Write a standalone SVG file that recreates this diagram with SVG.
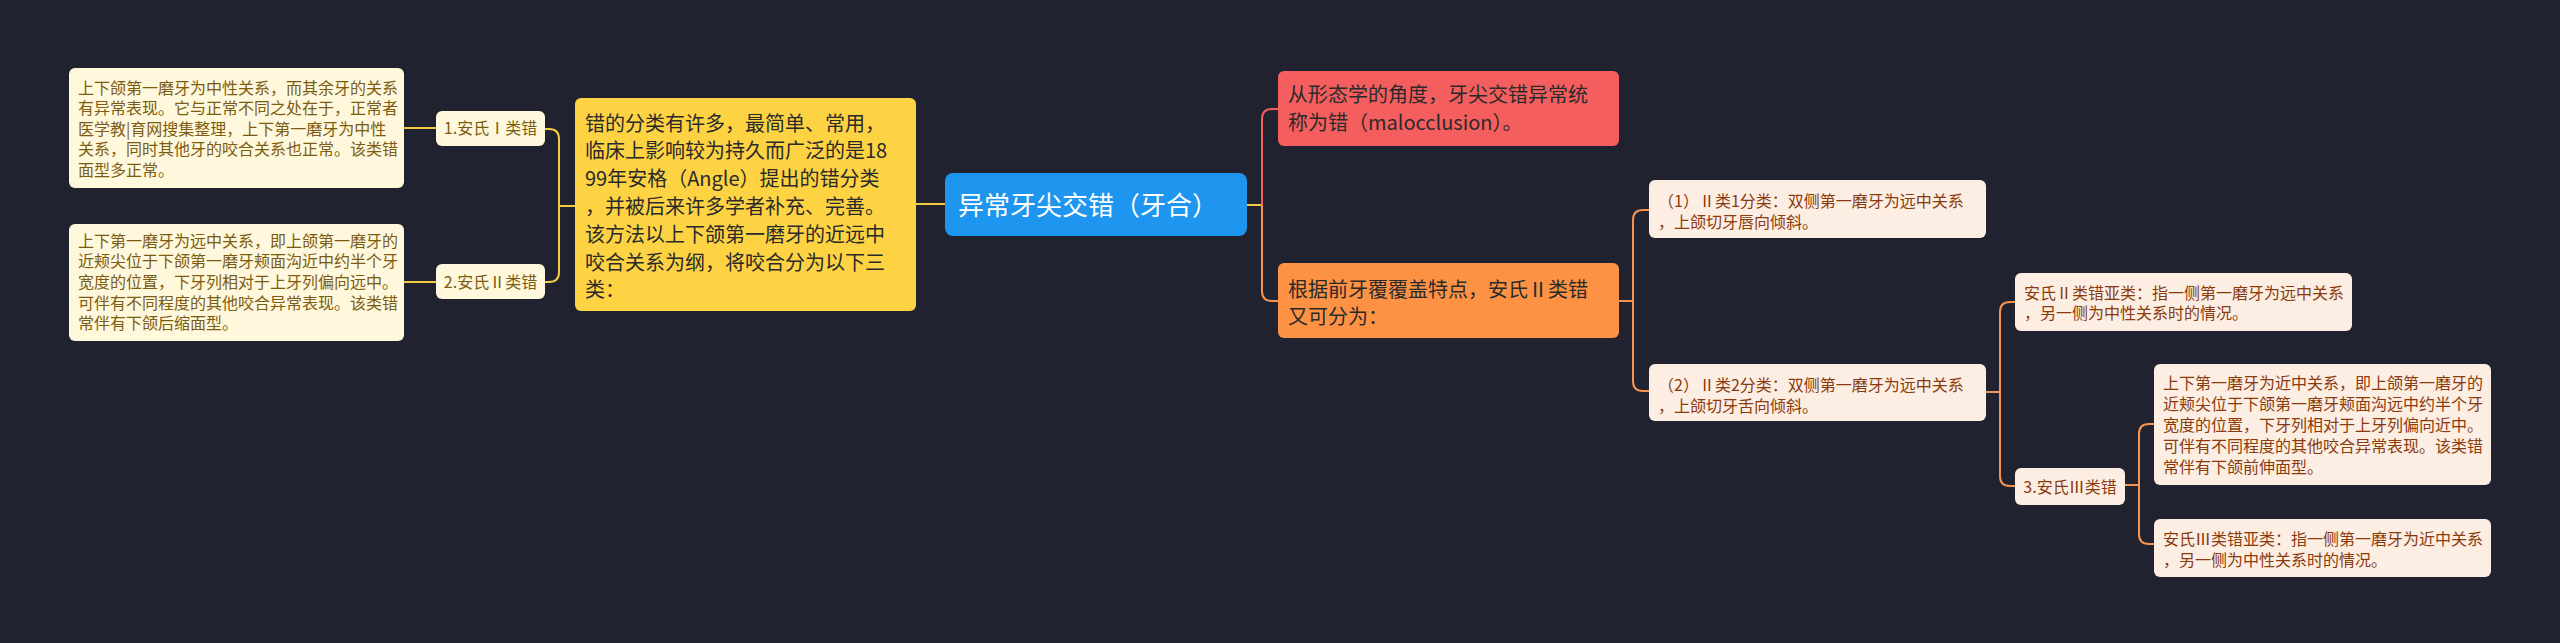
<svg xmlns="http://www.w3.org/2000/svg" width="2560" height="643" viewBox="0 0 2560 643">
<style>
.t{font-family:"Noto Sans CJK SC","Noto Sans",sans-serif}
.s16{font-size:16px}
.s20{font-size:20px}
.ly{fill:#fff8dc}
.lyt{fill:#7c5c10}
.lo{fill:#fdeee3}
.lot{fill:#8a3a0c}
.cy{fill:none;stroke:#f2cb45;stroke-width:2}
.cr{fill:none;stroke:#f25e5e;stroke-width:2}
.co{fill:none;stroke:#f79350;stroke-width:2}
.dk{fill:#2a2a2a}
</style>
<rect x="0" y="0" width="2560" height="643" fill="#20232f"/>
<g id="connectors">
<path class="cy" d="M436 128 H404"/>
<path class="cy" d="M436 282 H404"/>
<path class="cy" d="M545 129 H549 Q559 129 559 139 V272 Q559 282 549 282 H545"/>
<path class="cy" d="M559 206 H575"/>
<path class="cy" d="M916 204 H945"/>
<path class="cy" d="M1247 205 H1262"/>
<path class="cr" d="M1262 205 V119 Q1262 109 1272 109 H1278"/>
<path class="co" d="M1262 205 V291 Q1262 301 1272 301 H1278"/>
<path class="co" d="M1619 301 H1633"/>
<path class="co" d="M1649 210 H1643 Q1633 210 1633 220 V381 Q1633 391 1643 391 H1649"/>
<path class="co" d="M1986 392 H2000"/>
<path class="co" d="M2015 302 H2010 Q2000 302 2000 312 V476 Q2000 486 2010 486 H2015"/>
<path class="co" d="M2125 485 H2139"/>
<path class="co" d="M2154 424 H2149 Q2139 424 2139 434 V534 Q2139 544 2149 544 H2154"/>
</g>
<g id="root">
<rect x="945" y="173" width="302" height="63" rx="8" fill="#1e95ef"/>
<text class="t" x="958" y="214.5" font-size="26" fill="#ffffff">异常牙尖交错（牙合）</text>
</g>
<g id="n-classify">
<rect x="575" y="98" width="341" height="213" rx="6" fill="#fdd344"/>
<text class="t s20 dk">
<tspan x="585" y="130.5">错的分类有许多，最简单、常用，</tspan>
<tspan x="585" y="158.3">临床上影响较为持久而广泛的是18</tspan>
<tspan x="585" y="186.1">99年安格（Angle）提出的错分类</tspan>
<tspan x="585" y="213.9">，并被后来许多学者补充、完善。</tspan>
<tspan x="585" y="241.7">该方法以上下颌第一磨牙的近远中</tspan>
<tspan x="585" y="269.5">咬合关系为纲，将咬合分为以下三</tspan>
<tspan x="585" y="297.3">类：</tspan>
</text>
</g>
<g id="n-class1">
<rect x="436" y="111" width="109" height="35" rx="6" class="ly"/>
<text class="t s16 lyt" x="490.5" y="134" text-anchor="middle">1.安氏Ⅰ类错</text>
</g>
<g id="n-class2">
<rect x="436" y="264" width="109" height="35" rx="6" class="ly"/>
<text class="t s16 lyt" x="490.5" y="288" text-anchor="middle">2.安氏Ⅱ类错</text>
</g>
<g id="n-class1-desc">
<rect x="69" y="68" width="335" height="120" rx="6" class="ly"/>
<text class="t s16 lyt">
<tspan x="78" y="93.5">上下颌第一磨牙为中性关系，而其余牙的关系</tspan>
<tspan x="78" y="114.1">有异常表现。它与正常不同之处在于，正常者</tspan>
<tspan x="78" y="134.7">医学教|育网搜集整理，上下第一磨牙为中性</tspan>
<tspan x="78" y="155.3">关系，同时其他牙的咬合关系也正常。该类错</tspan>
<tspan x="78" y="175.9">面型多正常。</tspan>
</text>
</g>
<g id="n-class2-desc">
<rect x="69" y="224" width="335" height="117" rx="6" class="ly"/>
<text class="t s16 lyt">
<tspan x="78" y="246.8">上下第一磨牙为远中关系，即上颌第一磨牙的</tspan>
<tspan x="78" y="267.4">近颊尖位于下颌第一磨牙颊面沟近中约半个牙</tspan>
<tspan x="78" y="288">宽度的位置，下牙列相对于上牙列偏向远中。</tspan>
<tspan x="78" y="308.6">可伴有不同程度的其他咬合异常表现。该类错</tspan>
<tspan x="78" y="329.2">常伴有下颌后缩面型。</tspan>
</text>
</g>
<g id="n-morph">
<rect x="1278" y="71" width="341" height="75" rx="6" fill="#f45e5e"/>
<text class="t s20 dk">
<tspan x="1288" y="102.2">从形态学的角度，牙尖交错异常统</tspan>
<tspan x="1288" y="129.5">称为错（malocclusion）。</tspan>
</text>
</g>
<g id="n-anterior">
<rect x="1278" y="263" width="341" height="75" rx="6" fill="#fd9245"/>
<text class="t s20 dk">
<tspan x="1288" y="296.5">根据前牙覆覆盖特点，安氏Ⅱ类错</tspan>
<tspan x="1288" y="323.9">又可分为：</tspan>
</text>
</g>
<g id="n-div1">
<rect x="1649" y="180" width="337" height="58" rx="6" class="lo"/>
<text class="t s16 lot">
<tspan x="1658" y="206.5">（1）Ⅱ类1分类：双侧第一磨牙为远中关系</tspan>
<tspan x="1658" y="227.5">，上颌切牙唇向倾斜。</tspan>
</text>
</g>
<g id="n-div2">
<rect x="1649" y="364" width="337" height="57" rx="6" class="lo"/>
<text class="t s16 lot">
<tspan x="1658" y="390.8">（2）Ⅱ类2分类：双侧第一磨牙为远中关系</tspan>
<tspan x="1658" y="411.8">，上颌切牙舌向倾斜。</tspan>
</text>
</g>
<g id="n-class2-sub">
<rect x="2015" y="273" width="337" height="58" rx="6" class="lo"/>
<text class="t s16 lot">
<tspan x="2024" y="298.6">安氏Ⅱ类错亚类：指一侧第一磨牙为远中关系</tspan>
<tspan x="2024" y="319.4">，另一侧为中性关系时的情况。</tspan>
</text>
</g>
<g id="n-class3">
<rect x="2015" y="468" width="110" height="37" rx="6" class="lo"/>
<text class="t s16 lot" x="2070" y="493.4" text-anchor="middle">3.安氏Ⅲ类错</text>
</g>
<g id="n-class3-desc">
<rect x="2154" y="364" width="337" height="121" rx="6" class="lo"/>
<text class="t s16 lot">
<tspan x="2163" y="388.6">上下第一磨牙为近中关系，即上颌第一磨牙的</tspan>
<tspan x="2163" y="409.6">近颊尖位于下颌第一磨牙颊面沟远中约半个牙</tspan>
<tspan x="2163" y="430.6">宽度的位置，下牙列相对于上牙列偏向近中。</tspan>
<tspan x="2163" y="451.6">可伴有不同程度的其他咬合异常表现。该类错</tspan>
<tspan x="2163" y="472.6">常伴有下颌前伸面型。</tspan>
</text>
</g>
<g id="n-class3-sub">
<rect x="2154" y="519" width="337" height="58" rx="6" class="lo"/>
<text class="t s16 lot">
<tspan x="2163" y="545">安氏Ⅲ类错亚类：指一侧第一磨牙为近中关系</tspan>
<tspan x="2163" y="565.6">，另一侧为中性关系时的情况。</tspan>
</text>
</g>
</svg>
